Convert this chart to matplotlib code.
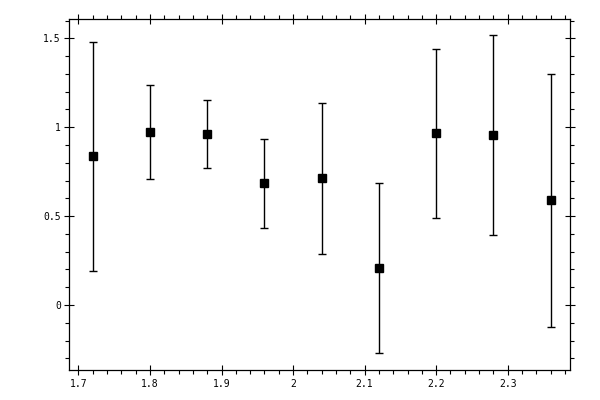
import numpy as np
import matplotlib
matplotlib.use("Agg")
import matplotlib.pyplot as plt
from matplotlib.ticker import MultipleLocator, FormatStrFormatter

# valores
x_vals = [1.72, 1.80, 1.88, 1.96, 2.04, 2.12, 2.20, 2.28, 2.36]
y_vals = [0.837, 0.972, 0.961, 0.685, 0.713, 0.208, 0.966, 0.955, 0.590]
y_err = [0.643, 0.263, 0.190, 0.250, 0.424, 0.476, 0.476, 0.562, 0.711]

fig = plt.figure(figsize=(6, 4), dpi=100)
ax = fig.add_axes([0.1158, 0.0743, 0.8347, 0.8775])

ax.errorbar(x_vals, y_vals, yerr=y_err, fmt='s', color='black', markersize=5.5,
            ecolor='black', elinewidth=1, capsize=3, capthick=1)

ax.set_xlim(1.6875, 2.3875)
ax.set_ylim(-0.367, 1.607)

ax.xaxis.set_major_locator(MultipleLocator(0.1))
ax.xaxis.set_minor_locator(MultipleLocator(0.02))
ax.yaxis.set_major_locator(MultipleLocator(0.5))
ax.yaxis.set_minor_locator(MultipleLocator(0.1))
ax.xaxis.set_major_formatter(FormatStrFormatter('%g'))
ax.yaxis.set_major_formatter(FormatStrFormatter('%g'))

# ticks en los cuatro lados, mayores cruzando el eje y menores hacia afuera
ax.tick_params(which='major', direction='inout', length=6.5, width=0.8,
               top=True, right=True, labelsize=7, pad=3)
ax.tick_params(which='minor', direction='out', length=2.7, width=0.8,
               top=True, right=True)
for lab in ax.get_xticklabels() + ax.get_yticklabels():
    lab.set_family('DejaVu Sans Mono')
for s in ax.spines.values():
    s.set_linewidth(0.9)

fig.savefig("out.png", dpi=100)
